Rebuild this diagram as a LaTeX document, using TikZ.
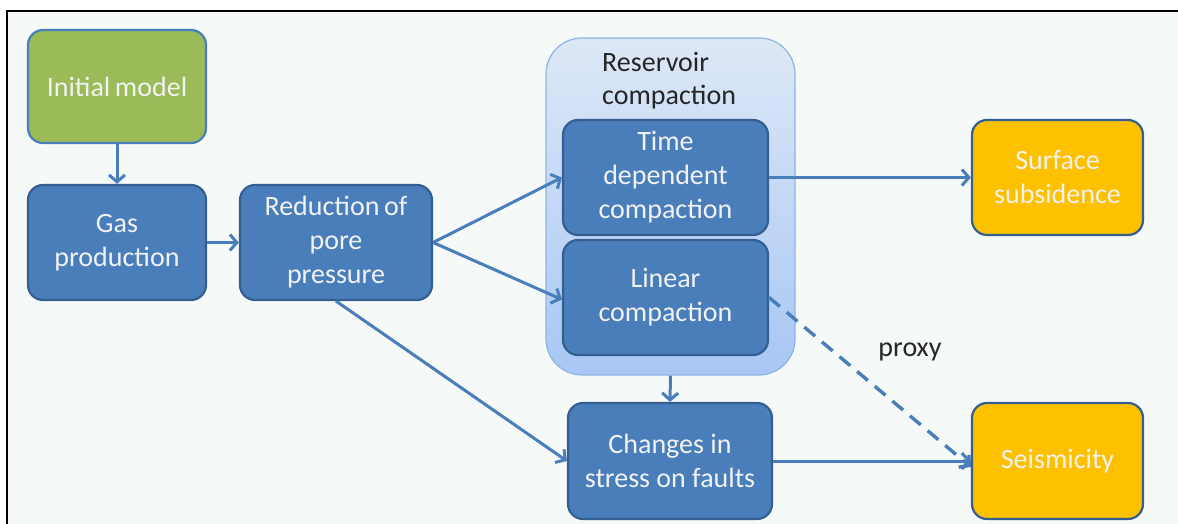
\documentclass[tikz,border=0pt]{standalone}
\usepackage{fontspec}
\setmainfont{Carlito}
\usetikzlibrary{arrows.meta,shadows}
\definecolor{boxblue}{HTML}{4A7EBB}
\definecolor{boxedge}{HTML}{365F91}
\definecolor{initgreen}{HTML}{9BBB59}
\definecolor{outorange}{HTML}{FDC100}
\definecolor{bgpale}{HTML}{F5F9F7}
\definecolor{conttop}{HTML}{DDE8F6}
\definecolor{contbot}{HTML}{A8C7F4}
\definecolor{contedge}{HTML}{8EB4E3}
\definecolor{txtwhite}{HTML}{F2F2F2}
\tikzset{
  box/.style={draw=boxedge, line width=2.2pt, rounded corners=15pt, fill=boxblue,
    text=txtwhite, align=center, inner sep=0pt,
    font=\fontsize{28}{34}\selectfont},
  greenbox/.style={box, fill=initgreen, draw=boxblue},
  orangebox/.style={box, fill=outorange, draw=boxedge},
  conn/.style={draw=boxblue, line width=3pt,
    -{Straight Barb[length=7pt,width=16pt]}},
  lbl/.style={text=black!85, font=\fontsize{28}{33}\selectfont, inner sep=0pt}
}
\begin{document}
\begin{tikzpicture}[x=1pt,y=-1pt]
\useasboundingbox (0,0) rectangle (1178,524);
\fill[white] (0,0) rectangle (1178,524);
\fill[bgpale] (7,11) rectangle (1178,524);
\draw[black, line width=2pt] (7,524) -- (7,11) -- (1178,11);

% container
\node (cont) [draw=contedge, line width=1.2pt, rounded corners=36pt,
  top color=conttop, bottom color=contbot,
  minimum width=249pt, minimum height=337pt, inner sep=0pt] at (670.5,206.5) {};
\node (rclabel) [lbl, anchor=west, align=left] at (602,81) {Reservoir\\compaction};

% boxes
\node (init) [greenbox, minimum width=178pt, minimum height=113pt] at (117,86.5) {Initial\,model};
\node (gas) [box, minimum width=178pt, minimum height=115pt] at (117,242.5) {Gas\\production};
\node (red) [box, minimum width=192pt, minimum height=115pt] at (336,242.5) {Reduction\,of\\pore\\pressure};
\node (time) [box, minimum width=205pt, minimum height=115pt] at (665.5,177.5) {Time\\dependent\\compaction};
\node (lin) [box, minimum width=205pt, minimum height=115pt] at (665.5,297.5) {Linear\\compaction};
\node (chg) [box, minimum width=204pt, minimum height=116pt] at (670,461) {Changes in\\stress on faults};
\node (surf) [orangebox, minimum width=171pt, minimum height=115pt] at (1057.5,177.5) {Surface\\subsidence};
\node (seis) [orangebox, minimum width=171pt, minimum height=116pt] at (1057.5,461) {Seismicity};

% connectors
\draw[conn] (init) -- (gas);
\draw[conn] (gas) -- (red);
\draw[conn] (red.east) -- (time.west);
\draw[conn] (red.east) -- ([yshift=-2pt]lin.west);
\draw[conn] (red.south) -- (chg.west);
\draw[conn] (cont.south) -- (chg.north);
\draw[conn] (time.east) -- (surf.west);
\draw[conn] (chg.east) -- (seis.west);
\draw[conn, line width=3.4pt, dash pattern=on 14pt off 9pt] (lin.east) -- ([yshift=-6pt]seis.west);
\node (proxy) [lbl] at (910,352) {proxy};
\end{tikzpicture}
\end{document}
